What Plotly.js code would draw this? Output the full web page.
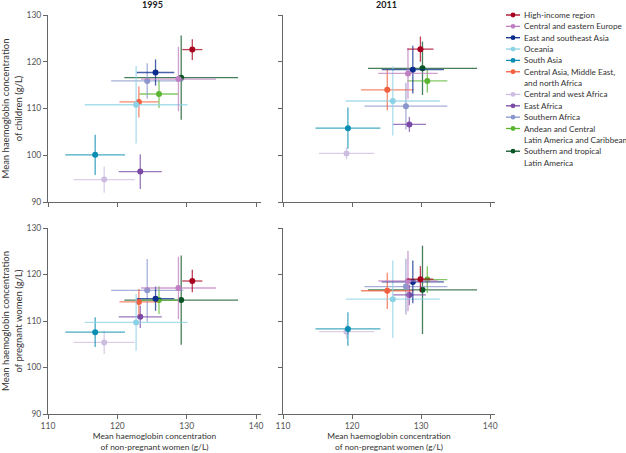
<!DOCTYPE html>
<html><head><meta charset="utf-8">
<script src="https://cdn.plot.ly/plotly-3.0.1.min.js"></script>
<style>html,body{margin:0;padding:0;background:#fff}#chart{width:626px;height:453px}</style>
</head><body><div id="chart"></div>
<script>
// ---- data ----
const regions = ["High-income region", "Central and eastern Europe", "East and southeast Asia", "Oceania", "South Asia",
  "Central Asia, Middle East,<br>and north Africa", "Central and west Africa", "East Africa", "Southern Africa",
  "Andean and Central<br>Latin America and Caribbean", "Southern and tropical<br>Latin America"];
const years = ["1995", "2011"];

const women1995    = [130.8, 128.8, 125.5, 122.7, 116.8, 123.1, 118.1, 123.3, 124.3, 126.0, 129.2];
const women1995Err = [1.45, 5.4, 2.7, 7.4, 4.3, 2.8, 4.4, 3.1, 5.2, 2.8, 8.2];
const child1995    = [122.6, 116.3, 117.7, 110.8, 100.1, 111.4, 94.8, 96.5, 115.9, 113.1, 116.6];
const child1995Err = [2.2, 6.9, 2.8, 8.3, 4.3, 3.3, 2.8, 3.7, 3.8, 3.0, 9.0];
const preg1995     = [118.6, 117.1, 114.8, 109.7, 107.6, 114.1, 105.4, 110.9, 116.6, 114.5, 114.5];
const preg1995Err  = [2.4, 6.7, 2.6, 6.1, 3.2, 2.8, 2.5, 2.4, 6.75, 3.0, 9.6];

const women2011    = [129.9, 128.1, 128.8, 125.9, 119.4, 125.1, 119.2, 128.3, 127.8, 130.9, 130.2];
const women2011Err = [1.9, 4.3, 4.5, 6.8, 4.7, 3.8, 4.0, 2.4, 6.0, 2.9, 7.9];
const child2011    = [122.7, 117.5, 118.3, 111.6, 105.8, 114.0, 100.4, 106.6, 110.5, 115.9, 118.6];
const child2011Err = [2.7, 5.4, 5.1, 7.4, 4.4, 4.4, 1.3, 1.6, 5.0, 2.5, 5.7];
const preg2011     = [119.0, 118.6, 118.4, 114.7, 108.3, 116.5, 107.7, 115.6, 117.4, 118.9, 116.7];
const preg2011Err  = [2.8, 6.5, 4.6, 8.3, 3.6, 3.9, 1.5, 2.2, 6.0, 2.9, 9.5];

// ---- styles ----
const regionColors = ["#a8001e", "#bf7fc2", "#0b2c8c", "#8cd2e6", "#0a8db2", "#f2603f",
  "#cdbde0", "#7a4aa6", "#8a96cc", "#5ab530", "#0b5424"];

function rgba(hex, a) {
  const n = parseInt(hex.slice(1), 16);
  return `rgba(${(n >> 16) & 255},${(n >> 8) & 255},${n & 255},${a})`;
}

const FONT = "Lato, 'Open Sans', sans-serif";
const panels = [
  {x: women1995, xe: women1995Err, y: child1995, ye: child1995Err, xa: "x", ya: "y"},
  {x: women2011, xe: women2011Err, y: child2011, ye: child2011Err, xa: "x2", ya: "y2"},
  {x: women1995, xe: women1995Err, y: preg1995, ye: preg1995Err, xa: "x3", ya: "y3"},
  {x: women2011, xe: women2011Err, y: preg2011, ye: preg2011Err, xa: "x4", ya: "y4"}
];

const traces = [];
panels.forEach(p => {
  for (let i = regions.length - 1; i >= 0; i--) {
    const c = regionColors[i];
    traces.push({
      type: "scatter", mode: "markers",
      x: [p.x[i]], y: [p.y[i]], xaxis: p.xa, yaxis: p.ya,
      name: regions[i], showlegend: false, hoverinfo: "skip",
      marker: {color: c, size: 6},
      error_x: {type: "data", array: [p.xe[i]], color: rgba(c, 0.75), thickness: 1.3, width: 0},
      error_y: {type: "data", array: [p.ye[i]], color: rgba(c, 0.75), thickness: 1.3, width: 0}
    });
  }
});

// geometry
const W = 626, H = 453, ML = 48, MR = 131, MT = 15, MB = 39;
const PW = W - ML - MR, PH = H - MT - MB;
const px2x = px => (px - ML) / PW;
const py2y = py => (H - MB - py) / PH;

const axisBase = {
  showline: true, linecolor: "#666", linewidth: 1, ticks: "outside", ticklen: 4, tickcolor: "#666",
  showgrid: false, zeroline: false, tickfont: {family: FONT, size: 8.5, color: "#555"}, dtick: 10, fixedrange: true
};
const xr = [110, 140.7], yr = [90, 130];
const xd1 = [0, px2x(261)], xd2 = [px2x(283), 1];
const ydTop = [py2y(202), 1], ydBot = [0, py2y(228)];
const yTitleFont = {family: FONT, size: 9.5, color: "#333"};
const xTitleFont = {family: FONT, size: 8.4, color: "#333"};

const layout = {
  width: W, height: H, margin: {l: ML, r: MR, t: MT, b: MB},
  paper_bgcolor: "#fff", plot_bgcolor: "#fff", showlegend: false,
  font: {family: FONT, size: 9, color: "#333"},
  xaxis:  Object.assign({}, axisBase, {domain: xd1, range: xr, anchor: "y", showticklabels: false}),
  yaxis:  Object.assign({}, axisBase, {domain: ydTop, range: yr, anchor: "x",
            title: {text: "Mean haemoglobin concentration<br>of children (g/L)", font: yTitleFont, standoff: 2}}),
  xaxis2: Object.assign({}, axisBase, {domain: xd2, range: xr, anchor: "y2", showticklabels: false}),
  yaxis2: Object.assign({}, axisBase, {domain: ydTop, range: yr, anchor: "x2", showticklabels: false}),
  xaxis3: Object.assign({}, axisBase, {domain: xd1, range: xr, anchor: "y3",
            title: {text: "Mean haemoglobin concentration<br>of non-pregnant women (g/L)", font: xTitleFont, standoff: 0}}),
  yaxis3: Object.assign({}, axisBase, {domain: ydBot, range: yr, anchor: "x3",
            title: {text: "Mean haemoglobin concentration<br>of pregnant women (g/L)", font: yTitleFont, standoff: 2}}),
  xaxis4: Object.assign({}, axisBase, {domain: xd2, range: xr, anchor: "y4",
            title: {text: "Mean haemoglobin concentration<br>of non-pregnant women (g/L)", font: xTitleFont, standoff: 0}}),
  yaxis4: Object.assign({}, axisBase, {domain: ydBot, range: yr, anchor: "x4", showticklabels: false}),
  annotations: [], shapes: []
};

// column titles (centred over each column)
[[48, 256, years[0]], [283, 490, years[1]]].forEach(([a, b, t]) => {
  layout.annotations.push({xref: "paper", yref: "paper", x: px2x((a + b) / 2),
    y: py2y(5), xanchor: "center", yanchor: "middle", showarrow: false,
    text: "<b>" + t + "</b>", font: {family: FONT, size: 9, color: "#222"}});
});

// legend (drawn manually for compact spacing)
const LINE = 11.35;
let lineIdx = 0;
regions.forEach((r, i) => {
  const parts = r.split("<br>");
  const yc = 15 + lineIdx * LINE;
  layout.shapes.push({type: "line", xref: "paper", yref: "paper", x0: px2x(506), x1: px2x(520), y0: py2y(yc), y1: py2y(yc),
    line: {color: regionColors[i], width: 1.3}});
  layout.shapes.push({type: "circle", xref: "paper", yref: "paper",
    x0: px2x(513 - 2.4), x1: px2x(513 + 2.4), y0: py2y(yc + 2.4), y1: py2y(yc - 2.4),
    fillcolor: regionColors[i], line: {width: 0}});
  parts.forEach((t, k) => {
    layout.annotations.push({xref: "paper", yref: "paper", x: px2x(522), y: py2y(yc + k * LINE),
      xanchor: "left", yanchor: "middle", align: "left", showarrow: false, text: t,
      font: {family: FONT, size: 8.2, color: "#333"}});
  });
  lineIdx += parts.length;
});

Plotly.newPlot("chart", traces, layout, {staticPlot: true, displayModeBar: false});
</script>
</body></html>
